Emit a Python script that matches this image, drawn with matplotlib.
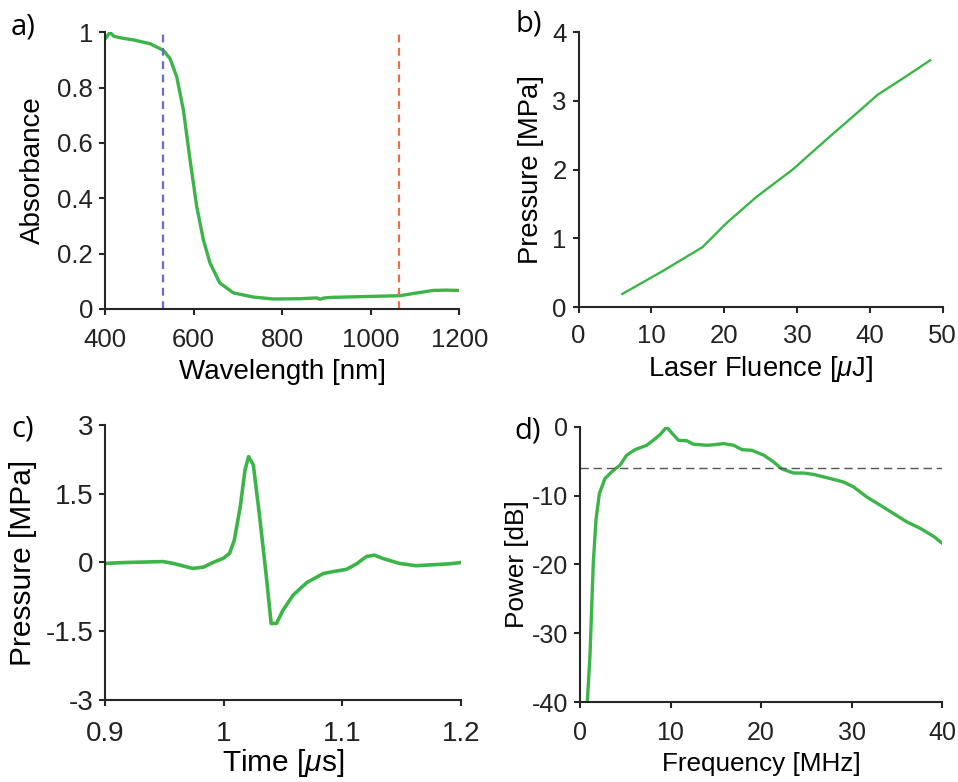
import matplotlib
matplotlib.use("Agg")
import matplotlib.pyplot as plt

plt.rcParams['font.family'] = ['Liberation Sans', 'DejaVu Sans']
plt.rcParams['mathtext.fontset'] = 'custom'
plt.rcParams['mathtext.it'] = 'Liberation Sans:italic'
plt.rcParams['mathtext.rm'] = 'Liberation Sans'
plt.rcParams['axes.unicode_minus'] = False

GREEN = '#3cb44a'
AX_COL = '#262626'

# a) absorbance spectrum
wl = [400, 405, 411, 420, 440, 464, 502, 532, 547, 562, 577, 592, 607, 622, 637,
      659, 690, 735, 780, 840, 878, 885, 895, 915, 991, 1066, 1104, 1141, 1170, 1200]
absorb = [0.975, 0.985, 1.0, 0.985, 0.978, 0.972, 0.958, 0.934, 0.904, 0.838, 0.718,
          0.538, 0.37, 0.25, 0.166, 0.094, 0.058, 0.043, 0.036, 0.037, 0.040, 0.035,
          0.040, 0.042, 0.045, 0.048, 0.058, 0.067, 0.068, 0.067]
laser_lines = [532, 1064]
laser_colors = ['#6a6ac8', '#e8704a']

# b) pressure vs fluence
fluence = [6, 11.5, 17, 20.3, 24.4, 29.4, 34.5, 38.2, 41.1, 44.6, 48.3]
pressure = [0.19, 0.52, 0.87, 1.22, 1.6, 2.0, 2.48, 2.82, 3.09, 3.33, 3.59]

# c) time trace
t_us = [0.9, 0.918, 0.949, 0.9575, 0.974, 0.983, 0.991, 0.9996, 1.005, 1.009, 1.014,
        1.018, 1.021, 1.025, 1.03, 1.036, 1.04, 1.0445, 1.05, 1.0586, 1.07, 1.084,
        1.092, 1.1035, 1.112, 1.1203, 1.127, 1.134, 1.148, 1.162, 1.176, 1.19, 1.2]
p_t = [-0.02, 0.0, 0.02, -0.02, -0.13, -0.1, 0.0, 0.09, 0.2, 0.49, 1.22, 2.02, 2.31,
       2.13, 1.07, -0.31, -1.33, -1.33, -1.04, -0.71, -0.44, -0.24, -0.2, -0.15,
       -0.03, 0.13, 0.16, 0.09, -0.02, -0.07, -0.05, -0.03, 0.0]

# d) power spectrum
freq = [0.81, 1.1, 1.47, 1.77, 2.14, 2.76, 3.69, 4.42, 5.16, 6.08, 7.37, 8.1, 8.85,
        9.58, 10.14, 10.88, 11.8, 12.5, 14.0, 14.7, 15.85, 16.96, 17.9, 19.0, 20.3,
        21.4, 22.3, 23.6, 24.7, 25.8, 27.65, 29.1, 30.2, 31.7, 33.2, 34.65, 36.1,
        37.6, 39.1, 40.0]
power = [-40, -33.4, -19.8, -13.5, -9.7, -7.5, -6.3, -5.56, -4.1, -3.3, -2.66, -1.93,
         -1.11, 0.0, -0.87, -1.93, -2.0, -2.5, -2.66, -2.6, -2.42, -2.66, -3.3, -3.4,
         -4.1, -5.1, -6.1, -6.7, -6.7, -6.9, -7.5, -8.0, -8.7, -10.2, -11.4, -12.6,
         -13.8, -14.75, -15.95, -16.9]
cutoff_db = -6

fig = plt.figure(figsize=(9.58, 7.82), dpi=100)
ax_a = fig.add_axes([0.1096, 0.6049, 0.370, 0.354])
ax_b = fig.add_axes([0.604, 0.6074, 0.380, 0.3516])
ax_c = fig.add_axes([0.1096, 0.1049, 0.3716, 0.3516])
ax_d = fig.add_axes([0.6054, 0.1023, 0.378, 0.3517])


def style(ax, tsize, xpad):
    for s in ['top', 'right']:
        ax.spines[s].set_visible(False)
    for s in ['left', 'bottom']:
        ax.spines[s].set_linewidth(1.5)
        ax.spines[s].set_color(AX_COL)
    ax.tick_params(direction='out', length=4.5, width=1.5, color=AX_COL,
                   labelsize=tsize, labelcolor='#222222')
    ax.tick_params(axis='x', pad=xpad)
    ax.tick_params(axis='y', pad=4)


fmt = matplotlib.ticker.FuncFormatter(lambda v, p: '%g' % round(v, 3))

# a
ax_a.plot(wl, absorb, color=GREEN, lw=2.4)
for xl, c in zip(laser_lines, laser_colors):
    ax_a.plot([xl, xl], [0, 1], color=c, lw=1.6, ls=(0, (3.5, 2.5)))
ax_a.set_xlim(400, 1200)
ax_a.set_ylim(0, 1)
ax_a.set_xticks([400, 600, 800, 1000, 1200])
ax_a.set_yticks([0, 0.2, 0.4, 0.6, 0.8, 1])
ax_a.yaxis.set_major_formatter(fmt)
ax_a.set_xlabel('Wavelength [nm]', fontsize=20, labelpad=5)
ax_a.set_ylabel('Absorbance', fontsize=20, labelpad=8)
style(ax_a, 18.5, 9)

# b
ax_b.plot(fluence, pressure, color=GREEN, lw=1.7)
ax_b.set_xlim(0, 50)
ax_b.set_ylim(0, 4)
ax_b.set_xticks([0, 10, 20, 30, 40, 50])
ax_b.set_yticks([0, 1, 2, 3, 4])
ax_b.set_xlabel(r'Laser Fluence [$\mu$J]', fontsize=19.7, labelpad=4)
ax_b.set_ylabel('Pressure [MPa]', fontsize=19.7, labelpad=6)
style(ax_b, 18.5, 8)

# c
ax_c.plot(t_us, p_t, color=GREEN, lw=2.6)
ax_c.set_xlim(0.9, 1.2)
ax_c.set_ylim(-3, 3)
ax_c.set_xticks([0.9, 1.0, 1.1, 1.2])
ax_c.set_yticks([-3, -1.5, 0, 1.5, 3])
ax_c.xaxis.set_major_formatter(fmt)
ax_c.yaxis.set_major_formatter(fmt)
ax_c.set_xlabel(r'Time [$\mu$s]', fontsize=21.5, labelpad=0)
ax_c.set_ylabel('Pressure [MPa]', fontsize=21.5, labelpad=6)
style(ax_c, 20, 11)

# d
ax_d.plot(freq, power, color=GREEN, lw=2.4)
ax_d.axhline(cutoff_db, color='#555555', lw=1.0, ls=(0, (6, 3.5)))
ax_d.set_xlim(0, 40)
ax_d.set_ylim(-40, 0)
ax_d.set_xticks([0, 10, 20, 30, 40])
ax_d.set_yticks([-40, -30, -20, -10, 0])
ax_d.set_xlabel('Frequency [MHz]', fontsize=18.8, labelpad=5)
ax_d.set_ylabel('Power [dB]', fontsize=18.8, labelpad=2)
style(ax_d, 18, 9)

for lab, x, y in [('a)', 11, 27), ('b)', 515, 24), ('c)', 11, 429), ('d)', 514, 431)]:
    fig.text(x / 958, 1 - y / 782, lab, fontsize=21, family=['Open Sans', 'DejaVu Sans'],
             va='center', ha='left')

fig.savefig('out.png', dpi=100)
